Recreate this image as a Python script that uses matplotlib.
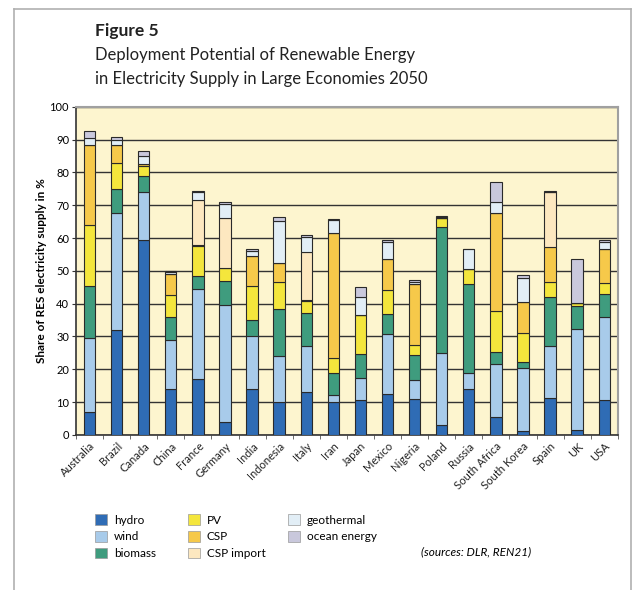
import matplotlib.pyplot as plt
from matplotlib.patches import Patch
from matplotlib.lines import Line2D
import numpy as np

countries = ['Australia', 'Brazil', 'Canada', 'China', 'France', 'Germany', 'India',
             'Indonesia', 'Italy', 'Iran', 'Japan', 'Mexico', 'Nigeria', 'Poland',
             'Russia', 'South Africa', 'South Korea', 'Spain', 'UK', 'USA']

# shares in %
hydro = [7, 32, 59.5, 14, 17, 4, 14, 10, 13, 10, 10.7, 12.4, 11, 3, 14, 5.4, 1.3, 11.2, 1.5, 10.7]
wind = [22.5, 35.5, 14.5, 15, 27.5, 35.5, 16, 14, 14, 2, 6.5, 18.3, 5.7, 22, 5, 16.2, 19, 16, 30.7, 25.3]
biomass = [16, 7.5, 5, 7, 4, 7.5, 5, 14.5, 10, 7, 7.5, 6, 7.6, 38.5, 27, 3.8, 2, 14.8, 7.1, 6.8]
pv = [18.5, 8, 3, 6.5, 9, 4, 10.5, 8, 3.7, 4.5, 11.7, 7.5, 3, 2.5, 4.5, 12.2, 8.7, 4.6, 0.8, 3.6]
csp = [24.5, 5.5, 0.5, 6.5, 0.5, 0, 9, 6, 0.5, 38, 0, 9.5, 18.6, 0, 0, 30, 9.6, 10.7, 0, 10.1]
csp_import = [0, 0, 0, 0, 13.5, 15, 0, 0, 14.5, 0, 0, 0, 0, 0, 0, 0, 0, 16.6, 0, 0]
geothermal = [2, 1.5, 2.5, 0.5, 2.5, 4.5, 1.5, 12.8, 4.5, 4, 5.6, 5, 0.6, 0.3, 6, 3.4, 7.1, 0, 0, 2.4]
ocean = [2, 0.8, 1.5, 0.3, 0.3, 0.4, 0.5, 1.2, 0.7, 0.4, 3.2, 0.6, 0.6, 0.4, 0.3, 6.1, 1, 0.5, 13.4, 0.5]

series = [
    ('hydro', hydro, '#2f6cb5'),
    ('wind', wind, '#a8cbea'),
    ('biomass', biomass, '#3f9c7e'),
    ('PV', pv, '#f4e63c'),
    ('CSP', csp, '#f6c94a'),
    ('CSP import', csp_import, '#fde8c0'),
    ('geothermal', geothermal, '#e2eef6'),
    ('ocean energy', ocean, '#c9c8dc'),
]

fig = plt.figure(figsize=(6.33, 5.9), dpi=100)
plt.rcParams['font.family'] = ['Lato', 'DejaVu Sans']

ax = fig.add_axes([0.120, 0.263, 0.856, 0.556])
ax.set_facecolor('#fdf5cf')

x = np.arange(len(countries))
bottom = np.zeros(len(countries))
for name, vals, col in series:
    ax.bar(x, vals, bottom=bottom, width=0.42, color=col, edgecolor='#2a2a2a',
           linewidth=0.8, zorder=3)
    bottom += np.array(vals)

ax.set_xlim(-0.5, len(countries) - 0.5)
ax.set_ylim(0, 100)
ax.set_yticks(range(0, 101, 10))
ax.yaxis.grid(True, color='#333333', linewidth=1.0, zorder=0)
ax.set_axisbelow(True)

ax.set_xticks(x)
ax.set_xticklabels(countries, rotation=45, ha='right', rotation_mode='anchor', fontsize=8,
                   color='#222222')
ax.set_xticks(np.arange(-0.5, len(countries)), minor=True)
ax.tick_params(axis='x', which='major', length=0, pad=4)
ax.tick_params(axis='x', which='minor', length=3, color='#555555')
ax.tick_params(axis='y', labelsize=8, length=3, color='#333333', pad=2)

for s in ['top', 'right']:
    ax.spines[s].set_color('#a0a0a0')
    ax.spines[s].set_linewidth(1.5)
for s in ['left', 'bottom']:
    ax.spines[s].set_color('#333333')
    ax.spines[s].set_linewidth(1.2)

ax.set_ylabel('Share of RES electricity supply in %', fontsize=8.5, fontweight='bold', labelpad=2)

# titles
fig.text(0.150, 0.947, 'Figure 5', fontsize=12.5, fontweight='bold', va='center', color='#222222')
fig.text(0.150, 0.906, 'Deployment Potential of Renewable Energy', fontsize=12, va='center', color='#222222')
fig.text(0.150, 0.866, 'in Electricity Supply in Large Economies 2050', fontsize=12, va='center', color='#222222')

# legend, one column at a time
handles = [Patch(facecolor=col, edgecolor='#999999', linewidth=0.5, label=name)
           for name, vals, col in series]
groups = [(handles[0:3], 0.150), (handles[3:6], 0.297), (handles[6:8], 0.455)]
for hs, xpos in groups:
    fig.legend(handles=hs, loc='upper left', bbox_to_anchor=(xpos, 0.128),
               frameon=False, fontsize=8.5, handlelength=1.0, handleheight=1.0,
               handletextpad=0.6, labelspacing=0.45, borderaxespad=0, borderpad=0)

fig.text(0.752, 0.064, '(sources: DLR, REN21)', fontsize=8.5, style='italic', ha='center', va='center')

# outer frame
fig.add_artist(Line2D([0.022, 0.997], [0.985, 0.985], color='#b0b0b0', linewidth=1.2))
fig.add_artist(Line2D([0.022, 0.022], [0.0, 0.985], color='#b0b0b0', linewidth=1.2))
fig.add_artist(Line2D([0.997, 0.997], [0.0, 0.985], color='#b0b0b0', linewidth=1.2))

fig.savefig('out.png', dpi=100)
